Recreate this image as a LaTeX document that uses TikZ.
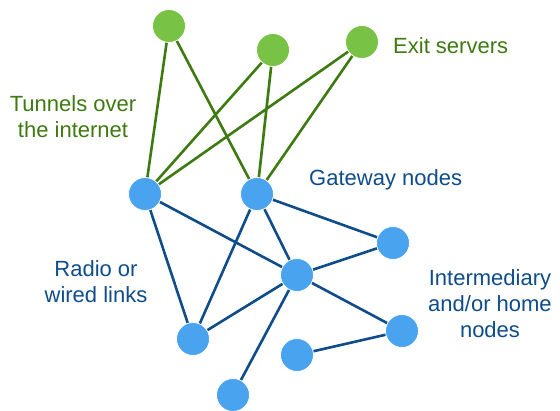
\documentclass[tikz,border=0pt]{standalone}
\usepackage{fontspec}
\setmainfont{Liberation Sans}
\definecolor{gfill}{HTML}{78C346}
\definecolor{gline}{HTML}{3D7A10}
\definecolor{bfill}{HTML}{4AA3EF}
\definecolor{bline}{HTML}{0E4C8A}
\begin{document}
\begin{tikzpicture}[x=1pt,y=-1pt,
  gnode/.style={circle,fill=gfill,draw=white,line width=0.8pt,minimum size=33pt,inner sep=0pt},
  bnode/.style={circle,fill=bfill,draw=white,line width=0.8pt,minimum size=33pt,inner sep=0pt},
  gedge/.style={draw=gline,line width=2.6pt},
  bedge/.style={draw=bline,line width=2.6pt},
  glabel/.style={text=gline,font=\fontsize{22}{26}\selectfont,align=center,inner sep=0pt},
  blabel/.style={text=bline,font=\fontsize{22}{26}\selectfont,align=center,inner sep=0pt}]
\useasboundingbox (0,0) rectangle (560,411);
% node positions
\coordinate (g1) at (169,26);
\coordinate (g2) at (273,50);
\coordinate (g3) at (362,42);
\coordinate (b1) at (145,194);
\coordinate (b2) at (257,194);
\coordinate (b3) at (393,243);
\coordinate (b4) at (297,275);
\coordinate (b5) at (193,339);
\coordinate (b6) at (402,331);
\coordinate (b7) at (297,355);
\coordinate (b8) at (233,395);
% edges
\path[gedge] (g1) -- (b1) (g1) -- (b2) (g2) -- (b1) (g2) -- (b2) (g3) -- (b1) (g3) -- (b2);
\path[bedge] (b1) -- (b4) (b1) -- (b5) (b2) -- (b3) (b2) -- (b4) (b2) -- (b5)
  (b4) -- (b5) (b4) -- (b3) (b4) -- (b6) (b4) -- (b8) (b7) -- (b6);
% nodes on top
\foreach \n in {g1,g2,g3} \node[gnode] (n\n) at (\n) {};
\foreach \n in {b1,b2,b3,b4,b5,b6,b7,b8} \node[bnode] (n\n) at (\n) {};
% labels
\node[glabel,anchor=west] (lexit) at (393,46) {Exit servers};
\node[glabel] (ltun) at (73,117) {Tunnels over\\the internet};
\node[blabel,anchor=west] (lgate) at (309,180) {Gateway nodes};
\node[blabel] (lradio) at (96,282) {Radio or\\wired links};
\node[blabel] (linter) at (490,304) {Intermediary\\and/or home\\nodes};
\end{tikzpicture}
\end{document}
